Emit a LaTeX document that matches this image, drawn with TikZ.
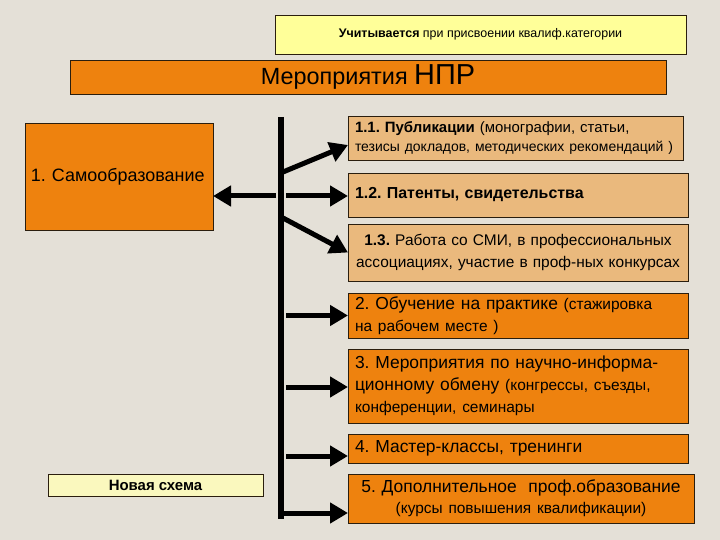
\documentclass[tikz,border=0pt]{standalone}
\usepackage{fontspec}
\setmainfont{Liberation Sans}
\frenchspacing
\usetikzlibrary{arrows.meta,positioning,calc}

\begin{document}
\begin{tikzpicture}[x=1bp, y=-1bp,
    box/.style={draw=boxBorder, line width=0.8bp, inner xsep=7bp, inner ysep=0pt, outer sep=0pt},
    orangebox/.style={box, fill=orangeColor, minimum width=340bp, text width=326bp, align=left},
    tanbox/.style={box, fill=tanColor, minimum width=340bp, text width=326bp, align=left},
    arr/.style={line width=5bp, -{Triangle[length=18bp, width=20bp]}}]
    % Palette
    \definecolor{bgColor}{HTML}{E4E0D7}
    \definecolor{yellowColor}{HTML}{FFFF99}
    \definecolor{paleColor}{HTML}{FAF8BE}
    \definecolor{orangeColor}{HTML}{EE820E}
    \definecolor{tanColor}{HTML}{EAB97D}
    \definecolor{boxBorder}{HTML}{2A1E0E}

    \fill[bgColor] (0,0) rectangle (720,540);
    \useasboundingbox (0,0) rectangle (720,540);

    % --- Header ---
    \node[box, fill=yellowColor, minimum width=411bp, minimum height=39bp, font=\fontsize{12.5}{14}\selectfont] (note) at (480.5,34.5)
        {\textbf{Учитывается} при присвоении квалиф.категории};
    \node[box, fill=orangeColor, minimum width=596bp, minimum height=34bp] (title) at (368,77)
        {\fontsize{23.5}{26}\selectfont Мероприятия \fontsize{29}{30}\selectfont НПР};

    % --- Left column ---
    \node[box, fill=orangeColor, minimum width=188bp, minimum height=107bp, inner xsep=6bp, text width=176bp, align=left, font=\fontsize{18}{20}\selectfont] (self) at (119,176.5)
        {1. Самообразование};
    \node[box, fill=paleColor, minimum width=215bp, minimum height=22bp, font=\fontsize{15}{16}\selectfont\bfseries] (newscheme) at (155.5,485)
        {Новая схема};

    % --- Right column ---
    \node[tanbox, minimum width=335bp, text width=321bp, minimum height=44bp, font=\fontsize{15}{20}\selectfont] (p11) at (515.5,138)
        {\textbf{1.1. Публикации} (монографии, статьи,\\
         {\fontsize{14}{20}\selectfont тезисы докладов, методических рекомендаций )}};
    \node[tanbox, minimum height=44bp, font=\fontsize{16}{18}\selectfont\bfseries] (p12) at (518,195)
        {1.2. Патенты, свидетельства};
    \node[tanbox, minimum height=57bp, inner xsep=2bp, text width=336bp, align=center, font=\fontsize{15.5}{22}\selectfont] (p13) at (518,252.5)
        {\textbf{1.3.} Работа со СМИ, в профессиональных\\ассоциациях, участие в проф-ных конкурсах};
    \node[orangebox, minimum height=45bp, font=\fontsize{17.5}{22}\selectfont] (p2) at (518,315.5)
        {2. Обучение на практике {\fontsize{15.5}{22}\selectfont (стажировка\\на рабочем месте )}};
    \node[orangebox, minimum height=74bp, font=\fontsize{17.5}{22}\selectfont] (p3) at (518,386)
        {3. Мероприятия по научно-информа-\\ционному обмену {\fontsize{15.5}{22}\selectfont (конгрессы, съезды,\\конференции, семинары}};
    \node[orangebox, minimum height=29bp, font=\fontsize{17.5}{18}\selectfont] (p4) at (518,448.5)
        {4. Мастер-классы, тренинги};
    \node[orangebox, minimum width=346bp, text width=332bp, minimum height=49bp, align=center, font=\fontsize{17.5}{21}\selectfont] (p5) at (521,498.5)
        {5. Дополнительное~ проф.образование\\{\fontsize{15.5}{21}\selectfont (курсы повышения квалификации)}};

    % --- Trunk and arrows ---
    \coordinate (top) at (281,117);
    \coordinate (bottom) at (281,519);
    \draw[line width=6bp] (top) -- (bottom);

    \coordinate (s11) at (283,172);
    \coordinate (s12) at (286,196);
    \coordinate (sl) at (276,196);
    \coordinate (s13) at (283,218);
    \coordinate (s2) at (286,315.5);
    \coordinate (s3) at (286,387);
    \coordinate (s4) at (286,456);
    \coordinate (s5) at (278,513);

    \draw[arr] (s11) -- ([yshift=-7bp]p11.west);
    \draw[arr] (s12) -- (s12 -| p12.west);
    \draw[arr] (sl) -- (sl -| self.east);
    \draw[arr] (s13) -- (p13.west);
    \draw[arr] (s2) -- (s2 -| p2.west);
    \draw[arr] (s3) -- (s3 -| p3.west);
    \draw[arr] (s4) -- (s4 -| p4.west);
    \draw[arr] (s5) -- (s5 -| p5.west);
\end{tikzpicture}
\end{document}
